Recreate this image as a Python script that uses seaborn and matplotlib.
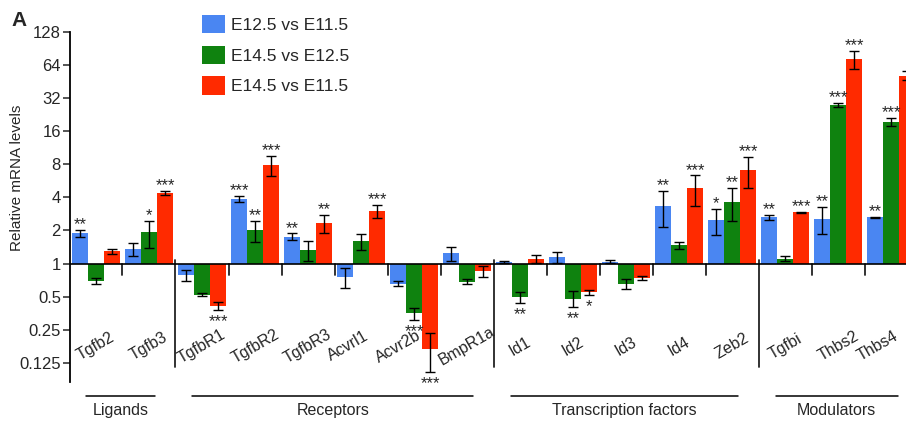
import numpy as np
import pandas as pd
import matplotlib
matplotlib.use('Agg')
import matplotlib.pyplot as plt
import seaborn as sns

# --- DATA ---
genes = ['Tgfb2', 'Tgfb3', 'TgfbR1', 'TgfbR2', 'TgfbR3', 'Acvrl1', 'Acvr2b', 'BmpR1a',
         'Id1', 'Id2', 'Id3', 'Id4', 'Zeb2', 'Tgfbi', 'Thbs2', 'Thbs4']
categories = ['Ligands', 'Receptors', 'Transcription factors', 'Modulators']
category_sizes = [2, 6, 5, 3]
comparisons = ['E12.5 vs E11.5', 'E14.5 vs E12.5', 'E14.5 vs E11.5']

e12_vs_e11 = [1.88, 1.36, 0.78, 3.86, 1.76, 0.755, 0.657, 1.24, 1.03, 1.15, 1.04, 3.35, 2.48, 2.63, 2.57, 2.63]
e12_vs_e11_err = [0.14, 0.18, 0.09, 0.25, 0.12, 0.16, 0.03, 0.18, 0.02, 0.13, 0.03, 1.2, 0.65, 0.13, 0.7, 0.03]
e12_vs_e11_sig = ['**', '', '', '***', '**', '', '', '', '', '', '', '**', '*', '**', '**', '**']

e14_vs_e12 = [0.69, 1.92, 0.52, 2.02, 1.33, 1.59, 0.352, 0.685, 0.496, 0.48, 0.657, 1.47, 3.65, 1.11, 27.8, 19.5]
e14_vs_e12_err = [0.045, 0.53, 0.017, 0.44, 0.27, 0.25, 0.045, 0.04, 0.06, 0.08, 0.07, 0.11, 1.2, 0.06, 1.3, 1.6]
e14_vs_e12_sig = ['', '*', '', '**', '', '', '***', '', '**', '**', '', '', '**', '', '***', '***']

e14_vs_e11 = [1.30, 4.38, 0.41, 7.88, 2.33, 3.02, 0.168, 0.856, 1.10, 0.55, 0.745, 4.83, 7.1, 2.92, 72.0, 51.4]
e14_vs_e11_err = [0.07, 0.2, 0.035, 1.6, 0.45, 0.4, 0.065, 0.1, 0.09, 0.03, 0.03, 1.5, 2.2, 0.03, 13.5, 5.0]
e14_vs_e11_sig = ['', '***', '***', '***', '**', '***', '***', '', '', '*', '', '***', '***', '***', '***', '***']

y_ticks = [0.125, 0.25, 0.5, 1, 2, 4, 8, 16, 32, 64, 128]
colors = ['#4a86f2', '#0f820f', '#ff2a00']

# small nudges of a few gene names, as in the original layout
label_shift = {'Acvrl1': -0.25, 'Acvr2b': -0.3, 'Thbs4': -0.25}

# --- LONG FORMAT (plotted on a log2 axis so bars start at 1) ---
df = pd.DataFrame({
    'gene': genes * 3,
    'comparison': np.repeat(comparisons, len(genes)),
    'value': e12_vs_e11 + e14_vs_e12 + e14_vs_e11,
})
df['log2'] = np.log2(df['value'])

# --- STYLE ---
sns.set_style('white')
plt.rcParams['font.family'] = ['Liberation Sans', 'DejaVu Sans']

fig = plt.figure(figsize=(9.06, 4.25), dpi=100)
ax = fig.add_axes([70 / 906, 43 / 425, 1 - 70 / 906, 350 / 425])

sns.barplot(data=df, x='gene', y='log2', hue='comparison', order=genes,
            hue_order=comparisons, palette=colors, saturation=1,
            width=0.906, gap=0, errorbar=None, linewidth=0, ax=ax)

# error bars + significance stars
series = [(e12_vs_e11, e12_vs_e11_err, e12_vs_e11_sig),
          (e14_vs_e12, e14_vs_e12_err, e14_vs_e12_sig),
          (e14_vs_e11, e14_vs_e11_err, e14_vs_e11_sig)]
for cont, (vals, errs, sigs) in zip(ax.containers, series):
    for bar, v, e, s in zip(cont, vals, errs, sigs):
        x = bar.get_x() + bar.get_width() / 2
        lo = np.log2(v - e)
        hi = np.log2(v + e)
        mid = np.log2(v)
        ax.errorbar(x, mid, yerr=[[mid - lo], [hi - mid]], color='black',
                    elinewidth=1, capsize=3.5, capthick=1, clip_on=True)
        if s:
            if v >= 1:
                ax.annotate(s, xy=(x, hi), xytext=(0, 0.5), textcoords='offset points',
                            ha='center', va='baseline', fontsize=12)
            else:
                ax.annotate(s, xy=(x, lo), xytext=(0, -11.5), textcoords='offset points',
                            ha='center', va='baseline', fontsize=12)

# baseline at 1
ax.axhline(0, color='black', lw=1.2, zorder=3)

# separators between genes / categories
bounds = np.cumsum(category_sizes)[:-1]
for i in range(1, len(genes)):
    if i in bounds:
        ax.plot([i - 0.5, i - 0.5], [0.1, -3.12], color='#222222', lw=1.3)
    else:
        ax.plot([i - 0.5, i - 0.5], [0, -0.35], color='#222222', lw=1.3)

# gene names inside the plot
for i, g in enumerate(genes):
    ax.text(i + label_shift.get(g, 0), -2.5, g, rotation=30, rotation_mode='anchor',
            ha='center', va='center', fontsize=11.5)

# category brackets below the axis
start = 0
for cat, n in zip(categories, category_sizes):
    x0 = start - 0.18
    x1 = start + n - 1 + 0.12
    ax.plot([x0, x1], [-3.99, -3.99], color='black', lw=1.1, clip_on=False)
    ax.text((x0 + x1) / 2, -4.45, cat, ha='center', va='center', fontsize=11.5)
    start += n

# axes cosmetics
ax.set_xlim(-0.49, 15.28)
ax.set_ylim(-3.58, 7)
ax.set_yticks(np.log2(y_ticks))
ax.set_yticklabels([f'{t:g}' for t in y_ticks], fontsize=12)
ax.set_xticks([])
ax.set_xlabel('')
ax.set_ylabel('')
ax.tick_params(axis='y', direction='out', length=5, width=1.1, pad=1.5, left=True)
for side in ['top', 'right', 'bottom']:
    ax.spines[side].set_visible(False)
ax.spines['left'].set_linewidth(1.3)
ax.spines['left'].set_color('black')

fig.text(17 / 906, 1 - 178 / 425, 'Relative mRNA levels', rotation=90,
         ha='center', va='center', fontsize=11)
fig.text(19 / 906, 1 - 20 / 425, 'A', fontsize=15, fontweight='bold',
         ha='center', va='center')

sns.move_legend(ax, 'upper left', bbox_to_anchor=(202 / 906, 1 - 15 / 425),
                bbox_transform=fig.transFigure, frameon=False, title=None,
                fontsize=12.5, handlelength=1.32, handleheight=1.26,
                handletextpad=0.35, labelspacing=0.7, borderpad=0, borderaxespad=0)

fig.savefig('out.png', dpi=100)
